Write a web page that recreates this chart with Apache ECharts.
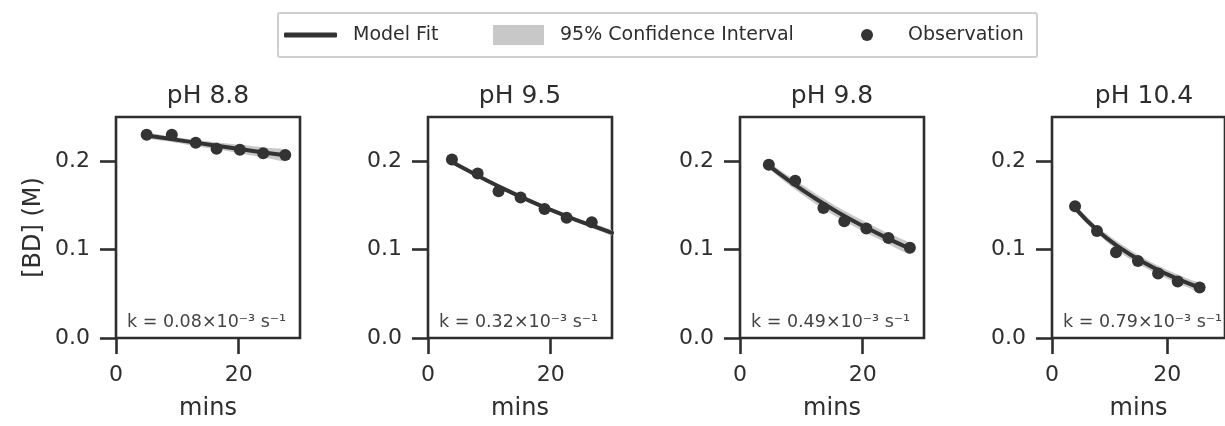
<!DOCTYPE html>
<html>
<head>
<meta charset="utf-8">
<script src="https://cdn.jsdelivr.net/npm/echarts@6/dist/echarts.min.js"></script>
<style>html,body{margin:0;padding:0;background:#fff}#chart{width:1225px;height:426px}</style>
</head>
<body>
<div id="chart"></div>
<script>
// ---- Data ----
const panelTitles = ['pH 8.8', 'pH 9.5', 'pH 9.8', 'pH 10.4'];
const rateValues = ['0.08', '0.32', '0.49', '0.79'];
const xTickValues = [0, 20];
const yTickValues = [0, 0.1, 0.2];

// pH 8.8
const obsT_88 = [5.0, 9.1, 13.0, 16.4, 20.2, 24.0, 27.6];
const obsC_88 = [0.230, 0.230, 0.221, 0.214, 0.213, 0.209, 0.207];
const fitT_88 = [5.0, 9.0, 13.0, 17.0, 21.0, 25.0, 27.6];
const fitC_88 = [0.229, 0.225, 0.221, 0.217, 0.213, 0.209, 0.207];
const ciLo_88 = [0.226, 0.222, 0.217, 0.213, 0.208, 0.203, 0.200];
const ciHi_88 = [0.232, 0.228, 0.224, 0.221, 0.218, 0.215, 0.213];

// pH 9.5
const obsT_95 = [3.9, 8.1, 11.5, 15.1, 19.0, 22.6, 26.7];
const obsC_95 = [0.202, 0.186, 0.166, 0.159, 0.146, 0.136, 0.131];
const fitT_95 = [3.9, 8.0, 12.0, 16.0, 20.0, 24.0, 28.0, 30.0];
const fitC_95 = [0.199, 0.184, 0.170, 0.157, 0.145, 0.134, 0.124, 0.119];
const ciLo_95 = [0.197, 0.182, 0.168, 0.155, 0.143, 0.132, 0.121, 0.116];
const ciHi_95 = [0.201, 0.186, 0.172, 0.159, 0.147, 0.136, 0.127, 0.122];

// pH 9.8
const obsT_98 = [4.7, 9.0, 13.6, 17.0, 20.6, 24.2, 27.7];
const obsC_98 = [0.196, 0.178, 0.147, 0.132, 0.124, 0.113, 0.102];
const fitT_98 = [4.7, 8.0, 12.0, 16.0, 20.0, 24.0, 27.7];
const fitC_98 = [0.195, 0.178, 0.159, 0.142, 0.127, 0.113, 0.101];
const ciLo_98 = [0.192, 0.173, 0.153, 0.136, 0.121, 0.107, 0.095];
const ciHi_98 = [0.198, 0.183, 0.165, 0.148, 0.133, 0.119, 0.107];

// pH 10.4
const obsT_104 = [4.0, 7.8, 11.1, 14.9, 18.4, 21.8, 25.6];
const obsC_104 = [0.149, 0.121, 0.097, 0.087, 0.073, 0.064, 0.057];
const fitT_104 = [4.0, 8.0, 12.0, 16.0, 20.0, 24.0, 25.6];
const fitC_104 = [0.147, 0.121, 0.101, 0.085, 0.072, 0.061, 0.057];
const ciLo_104 = [0.144, 0.117, 0.096, 0.080, 0.067, 0.056, 0.052];
const ciHi_104 = [0.150, 0.125, 0.106, 0.090, 0.077, 0.066, 0.062];

const panels = [
  {obsT: obsT_88, obsC: obsC_88, fitT: fitT_88, fitC: fitC_88, lo: ciLo_88, hi: ciHi_88},
  {obsT: obsT_95, obsC: obsC_95, fitT: fitT_95, fitC: fitC_95, lo: ciLo_95, hi: ciHi_95},
  {obsT: obsT_98, obsC: obsC_98, fitT: fitT_98, fitC: fitC_98, lo: ciLo_98, hi: ciHi_98},
  {obsT: obsT_104, obsC: obsC_104, fitT: fitT_104, fitC: fitC_104, lo: ciLo_104, hi: ciHi_104}
];

// ---- Layout / style ----
const FONT = 'DejaVu Sans';
const INK = '#2e2e2e';
const MARK = '#333333';
const BAND = '#c8c8c8';
const gridLefts = [116, 428, 740, 1052];
const gridTop = 117, gridW = 184, gridH = 226;

const chart = echarts.init(document.getElementById('chart'), null, {renderer: 'canvas'});

const grids = [], xAxes = [], yAxes = [], series = [], titles = [], graphics = [];
const zip = (a, b) => a.map((v, i) => [v, b[i]]);

panels.forEach((p, i) => {
  grids.push({left: gridLefts[i], top: gridTop, width: gridW, height: gridH,
    show: true, borderColor: INK, borderWidth: 2.6, backgroundColor: '#fff', containLabel: false});
  xAxes.push({type: 'value', gridIndex: i, min: 0, max: 30, interval: 10,
    name: 'mins', nameLocation: 'middle', nameGap: 59,
    nameTextStyle: {fontFamily: FONT, fontSize: 24, color: INK},
    axisLine: {show: false},
    axisTick: {show: true, inside: false, length: 16, customValues: xTickValues, lineStyle: {color: INK, width: 2.6}},
    axisLabel: {show: true, margin: 26, customValues: xTickValues, fontFamily: FONT, fontSize: 22, color: INK},
    splitLine: {show: false}});
  yAxes.push({type: 'value', gridIndex: i, min: 0, max: 0.25, interval: 0.05,
    name: i === 0 ? '[BD] (M)' : '', nameLocation: 'middle', nameGap: 70, nameRotate: 90,
    nameTextStyle: {fontFamily: FONT, fontSize: 24, color: INK},
    axisLine: {show: false},
    axisTick: {show: true, inside: false, length: 16, customValues: yTickValues, lineStyle: {color: INK, width: 2.6}},
    axisLabel: {show: true, margin: 26, customValues: yTickValues, fontFamily: FONT, fontSize: 22, color: INK,
      formatter: v => v.toFixed(1)},
    splitLine: {show: false}});
  titles.push({text: panelTitles[i], left: gridLefts[i] + gridW / 2, top: 84, textAlign: 'center', padding: 0,
    textStyle: {fontFamily: FONT, fontSize: 25, fontWeight: 'normal', color: INK}});

  // confidence band: polygon through the lower edge and back along the upper edge
  const bandData = p.fitT.map((t, k) => [t, p.lo[k], p.hi[k]]);
  series.push({type: 'custom', name: '95% Confidence Interval', xAxisIndex: i, yAxisIndex: i,
    data: bandData, encode: {x: 0, y: [1, 2]}, clip: true, silent: true, z: 1,
    itemStyle: {color: BAND},
    renderItem: (params, api) => {
      if (params.dataIndex !== 0) return null;
      const lower = bandData.map(d => api.coord([d[0], d[1]]));
      const upper = bandData.map(d => api.coord([d[0], d[2]])).reverse();
      return {type: 'polygon', shape: {points: lower.concat(upper), smooth: 0.2},
        style: {fill: BAND, stroke: null},
        clipPath: {type: 'rect', shape: {x: params.coordSys.x, y: params.coordSys.y,
          width: params.coordSys.width, height: params.coordSys.height}}};
    }});
  // model fit
  series.push({type: 'line', name: 'Model Fit', xAxisIndex: i, yAxisIndex: i,
    data: zip(p.fitT, p.fitC), symbol: 'none', smooth: true, color: MARK,
    lineStyle: {width: 4, color: MARK, cap: 'round'}, z: 3});
  // observations
  series.push({type: 'scatter', name: 'Observation', xAxisIndex: i, yAxisIndex: i,
    data: zip(p.obsT, p.obsC), symbol: 'circle', symbolSize: 12, color: MARK,
    itemStyle: {color: MARK, opacity: 1}, z: 4});

  // rate constant annotation
  graphics.push({type: 'text', left: gridLefts[i] + 11, top: gridTop + gridH - 30, z: 10,
    style: {text: 'k = ' + rateValues[i] + '×10⁻³ s⁻¹', fontFamily: FONT, fontSize: 17.5, fill: '#444'}});
});

// legend frame
graphics.unshift({type: 'rect', shape: {x: 278, y: 13, width: 759, height: 44, r: 2},
  style: {fill: '#fff', stroke: '#cfcfcf', lineWidth: 2}, z: 0});

const legendText = {fontFamily: FONT, fontSize: 19, color: INK, lineHeight: 22};
const option = {
  backgroundColor: '#fff',
  animation: false,
  title: titles,
  grid: grids,
  xAxis: xAxes,
  yAxis: yAxes,
  legend: [
    {data: [{name: 'Model Fit', icon: 'roundRect', itemStyle: {color: MARK}}], left: 284, top: 24, padding: 0,
      itemWidth: 53, itemHeight: 5, textStyle: Object.assign({padding: [0, 0, 0, 11]}, legendText), selectedMode: false},
    {data: [{name: '95% Confidence Interval', icon: 'rect', itemStyle: {color: BAND}}], left: 493, top: 24, padding: 0,
      itemWidth: 51, itemHeight: 20, textStyle: Object.assign({padding: [0, 0, 0, 11]}, legendText), selectedMode: false},
    {data: [{name: 'Observation', icon: 'circle', itemStyle: {color: MARK}}], left: 861, top: 24, padding: 0,
      itemWidth: 12, itemHeight: 12, textStyle: Object.assign({padding: [0, 0, 0, 30]}, legendText), selectedMode: false}
  ],
  graphic: graphics,
  series: series
};
chart.setOption(option);
</script>
</body>
</html>
